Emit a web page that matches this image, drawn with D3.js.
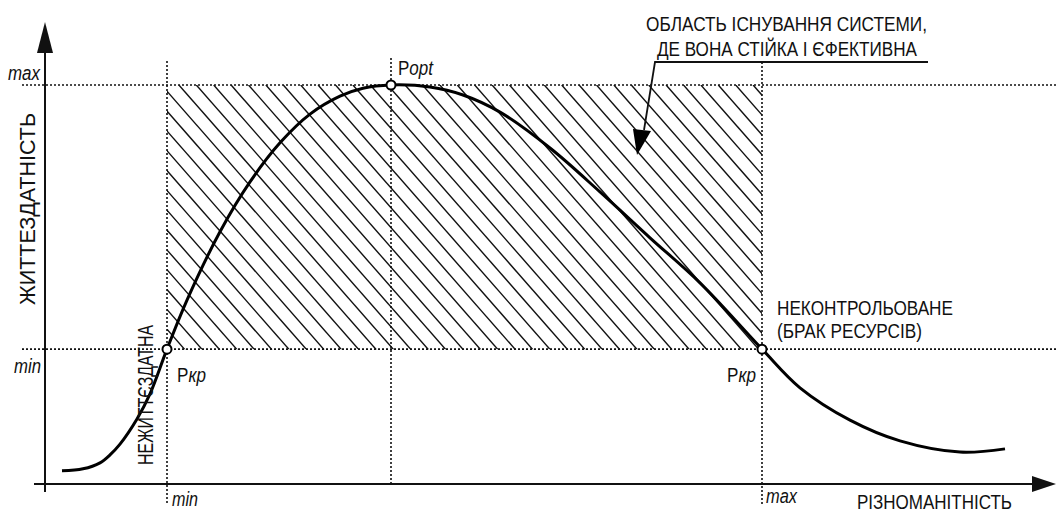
<!DOCTYPE html>
<html>
<head>
<meta charset="utf-8">
<script src="https://cdn.jsdelivr.net/npm/d3@7"></script>
<style>
  body { margin: 0; background: #fff; }
  text { font-family: "Liberation Sans Narrow", "Arial Narrow", "Liberation Sans", Arial, sans-serif; fill: #111; }
</style>
</head>
<body>
<div id="chart"></div>
<script>
// Curve points: diversity (x, 0..100) and viability (y, 0..100 of max)
const diversity = [1.7, 3.8, 5.5, 6.5, 7.5, 9.2, 10.5, 12.2, 14.2, 17.5, 20.5, 23.5, 26.5, 29.5, 31.8, 34.6,
                   38.5, 41.8, 45.5, 50.5, 55.5, 60.5, 65.5, 71.7, 75.5, 80.5, 85.5, 91.5, 96];
const viability = [3.3, 3.8, 5.3, 7.3, 10.0, 16.3, 22.6, 33.8, 46.1, 63.2, 75.7, 85.5, 92.7, 97.2, 99.2, 100,
                   99.5, 97.5, 93.2, 84.2, 73.2, 61.7, 50.4, 33.8, 24.1, 16.0, 10.8, 8.0, 8.8];

// Critical levels
const xLevels = {min: 12.2, opt: 34.6, max: 71.7};
const yLevels = {min: 33.8, max: 100};

// Marked points
const markNames = ['Ркр', 'Popt', 'Ркр'];
const markX = [12.2, 34.6, 71.7];
const markY = [33.8, 100, 33.8];

// Texts
const areaLabel = ['ОБЛАСТЬ ІСНУВАННЯ СИСТЕМИ,', 'ДЕ ВОНА СТІЙКА І ЄФЕКТИВНА'];
const rightLabel = ['НЕКОНТРОЛЬОВАНЕ', '(БРАК РЕСУРСІВ)'];
const yTitle = 'ЖИТТЕЗДАТНІСТЬ';
const xTitle = 'РІЗНОМАНІТНІСТЬ';
const leftLabel = 'НЕЖИТТЄЗДАТНА';

const width = 1056, height = 512;

const svg = d3.select("#chart")
    .append("svg")
    .attr("width", width)
    .attr("height", height);

const x = d3.scaleLinear().domain([0, 100]).range([45, 1045]);
const y = d3.scaleLinear().domain([0, 100]).range([484, 85]);

const x0 = x(0), y0 = y(0);

// Hatched area between min and max
const hx1 = x(xLevels.min), hx2 = x(xLevels.max);
const hy1 = y(yLevels.max), hy2 = y(yLevels.min);

svg.append("clipPath")
    .attr("id", "hatchClip")
    .append("rect")
    .attr("x", hx1).attr("y", hy1)
    .attr("width", hx2 - hx1).attr("height", hy2 - hy1);

const step = 17.4, slope = 1.14;
const hatch = svg.append("g").attr("clip-path", "url(#hatchClip)");
const hh = hy2 - hy1;
for (let sx = hx1 - hh / slope - step; sx < hx2 + step; sx += step) {
    hatch.append("line")
        .attr("x1", sx).attr("y1", hy1)
        .attr("x2", sx + (hh + 2) / slope).attr("y2", hy2 + 2)
        .attr("stroke", "#111")
        .attr("stroke-width", 1.4);
}

// Dotted guide lines
const dot = {stroke: "#111", "stroke-width": 1.6, "stroke-dasharray": "2,2"};
function dotted(x1, y1, x2, y2) {
    const l = svg.append("line")
        .attr("x1", x1).attr("y1", y1).attr("x2", x2).attr("y2", y2);
    Object.entries(dot).forEach(([k, v]) => l.attr(k, v));
}
dotted(22, y(yLevels.max), width, y(yLevels.max));
dotted(22, y(yLevels.min), width, y(yLevels.min));
dotted(x(xLevels.min), 61, x(xLevels.min), 505);
dotted(x(xLevels.opt), 58, x(xLevels.opt), y0);
dotted(x(xLevels.max), 62, x(xLevels.max), 505);

// Axes with arrows
svg.append("line")
    .attr("x1", x0).attr("y1", 48).attr("x2", x0).attr("y2", 492)
    .attr("stroke", "#111").attr("stroke-width", 2);
svg.append("path")
    .attr("d", `M${x0},22 L${x0 - 8},53 L${x0 + 8},53 Z`)
    .attr("fill", "#111");

svg.append("line")
    .attr("x1", 34).attr("y1", y0).attr("x2", 1036).attr("y2", y0)
    .attr("stroke", "#111").attr("stroke-width", 2);
svg.append("path")
    .attr("d", `M${width},${y0} L1032,${y0 - 8} L1032,${y0 + 8} Z`)
    .attr("fill", "#111");

// Curve
const pts = diversity.map((d, i) => [d, viability[i]]);
const line = d3.line()
    .x(d => x(d[0]))
    .y(d => y(d[1]))
    .curve(d3.curveCatmullRom.alpha(0.5));

svg.append("path")
    .datum(pts)
    .attr("d", line)
    .attr("fill", "none")
    .attr("stroke", "#000")
    .attr("stroke-width", 3);

// Marked points
svg.selectAll(".mark")
    .data(markX)
    .enter().append("circle")
    .attr("cx", d => x(d))
    .attr("cy", (d, i) => y(markY[i]))
    .attr("r", 4.5)
    .attr("fill", "#fff")
    .attr("stroke", "#000")
    .attr("stroke-width", 2);

// Point labels: upright first letter, italic rest
const markLabelPos = [[177, 382, 29], [398, 75, 35], [727, 382, 29]];
markNames.forEach((name, i) => {
    const [lx, ly, len] = markLabelPos[i];
    const t = svg.append("text")
        .attr("x", lx).attr("y", ly)
        .attr("textLength", len)
        .attr("lengthAdjust", "spacingAndGlyphs")
        .style("font-size", "20px");
    t.append("tspan").text(name[0]);
    t.append("tspan").style("font-style", "italic").text(name.slice(1));
});

// Helper for plain text
function label(txt, lx, ly, len, size, opts = {}) {
    const t = svg.append("text")
        .attr("x", lx).attr("y", ly)
        .attr("textLength", len)
        .attr("lengthAdjust", "spacingAndGlyphs")
        .style("font-size", size + "px")
        .text(txt);
    if (opts.italic) t.style("font-style", "italic");
    if (opts.rotate) t.attr("transform", `rotate(-90,${lx},${ly})`);
    return t;
}

// Level labels
label("max", 8, 80, 32, 20, {italic: true});
label("min", 14, 373, 27, 20, {italic: true});
label("min", 172, 506, 26, 20, {italic: true});
label("max", 766, 503, 31, 20, {italic: true});

// Area annotation
label(areaLabel[0], 646, 31, 281, 20);
label(areaLabel[1], 657, 56, 260, 20);
svg.append("polyline")
    .attr("points", "928,62 655,62 644,130")
    .attr("fill", "none")
    .attr("stroke", "#111")
    .attr("stroke-width", 1.8);
svg.append("path")
    .attr("d", "M637,155 L633,129 L651,131 Z")
    .attr("fill", "#000");

// Right labels
label(rightLabel[0], 777, 315, 176, 20);
label(rightLabel[1], 777, 338, 145, 20);

// Axis titles
label(xTitle, 857, 509, 155, 20);
label(yTitle, 35, 305, 192, 22, {rotate: true});
label(leftLabel, 153, 465, 140, 22, {rotate: true});
</script>
</body>
</html>
